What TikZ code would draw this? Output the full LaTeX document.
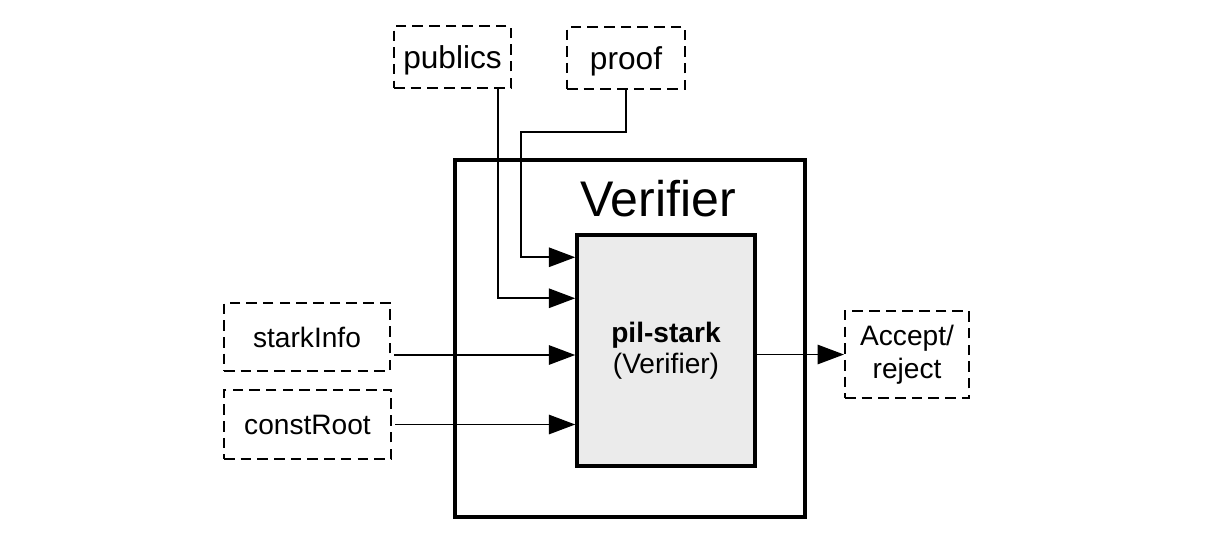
\documentclass[tikz,border=0pt]{standalone}
\usepackage{fontspec}
\setmainfont{Liberation Sans}
\usetikzlibrary{arrows.meta,calc}
\definecolor{boxgray}{HTML}{EBEBEB}
\tikzset{
	ioBox/.style={draw,dash pattern=on 6pt off 3.5pt,line width=1.2pt,inner sep=0pt,align=center,font=\fontsize{16}{19}\selectfont},
	topBox/.style={ioBox,minimum height=1.24cm,text height=17pt,text depth=4pt,font=\fontsize{18}{21}\selectfont},
	link/.style={line width=1.05pt,-{Triangle[length=15pt,width=11pt]}},
}
\begin{document}
\begin{tikzpicture}[x=0.02cm,y=-0.02cm]
	\useasboundingbox (0,0) rectangle (1229,534);

	% verifier and the pil-stark block
	\node[draw,line width=2.3pt,minimum width=7cm,minimum height=7.14cm] (verifier) at (630,338.5) {};
	\node (title) at (658,199) {\fontsize{28.5}{34}\selectfont Verifier};
	\node[draw,fill=boxgray,line width=2pt,minimum width=3.56cm,minimum height=4.62cm,align=center,font=\fontsize{16}{17.5}\selectfont] (pil) at (666,350.5) {\textbf{pil-stark}\\(Verifier)};

	% inputs and output
	\node[topBox,minimum width=2.34cm] (publics) at (452.5,57) {publics};
	\node[topBox,minimum width=2.36cm] (proof) at (626,58) {proof};
	\node[ioBox,minimum width=3.32cm,minimum height=1.36cm] (starkInfo) at (307,337) {starkInfo};
	\node[ioBox,minimum width=3.34cm,minimum height=1.38cm] (constRoot) at (307.5,424.5) {constRoot};
	\node[ioBox,minimum width=2.48cm,minimum height=1.74cm] (accept) at (907,354.5) {Accept/\\reject};

	\draw[link] (proof.south) -- ++(0,42) -| ($(pil.north west)+(-54,24)$) -- ($(pil.north west)+(0,24)$);
	\draw[link] ($(publics.south east)+(-14,0)$) |- ($(pil.north west)+(0,65)$);
	\draw[link] ($(starkInfo.east)+(3,18)$) -- ($(pil.west)+(0,4.5)$);
	\draw[link] ($(constRoot.east)+(3,0)$) -- (constRoot.east -| pil.west);
	\draw[link] (pil.east |- accept.west) -- (accept.west);
\end{tikzpicture}
\end{document}
